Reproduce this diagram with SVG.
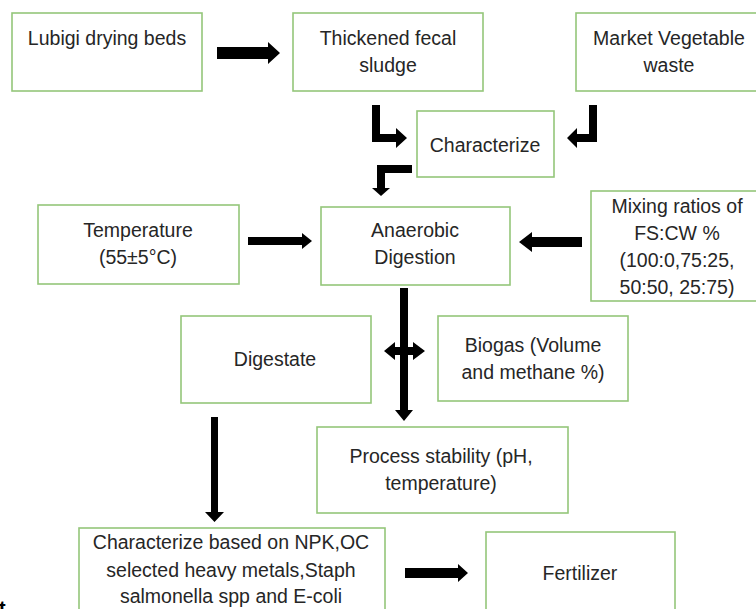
<svg xmlns="http://www.w3.org/2000/svg" width="756" height="609" viewBox="0 0 756 609">
<style>
.box{fill:#fff;stroke:#94C67A;stroke-width:1.6}
.t{font-family:"Liberation Sans",Arial,sans-serif;font-size:19.5px;fill:#262626;text-anchor:middle}
.arr{fill:#000}
</style>
<rect width="756" height="609" fill="#fff"/>
<g id="lubigi"><rect class="box" x="12" y="13" width="190" height="78"/><text class="t" x="107" y="45">Lubigi drying beds</text></g>
<g id="thickened"><rect class="box" x="293" y="13" width="190" height="78"/><text class="t" x="388" y="45">Thickened fecal</text><text class="t" x="388" y="72">sludge</text></g>
<g id="market"><rect class="box" x="576" y="13" width="190" height="78"/><text class="t" x="669" y="45">Market Vegetable</text><text class="t" x="669" y="72">waste</text></g>
<g id="characterize"><rect class="box" x="417" y="111" width="137" height="66"/><text class="t" x="485" y="152">Characterize</text></g>
<g id="temperature"><rect class="box" x="38" y="205" width="201" height="79"/><text class="t" x="138" y="237">Temperature</text><text class="t" x="138" y="264">(55±5°C)</text></g>
<g id="anaerobic"><rect class="box" x="321" y="207" width="189" height="78"/><text class="t" x="415" y="237">Anaerobic</text><text class="t" x="415" y="264">Digestion</text></g>
<g id="mixing"><rect class="box" x="591" y="191" width="175" height="110"/><text class="t" x="677" y="213">Mixing ratios of</text><text class="t" x="677" y="240">FS:CW %</text><text class="t" x="677" y="267">(100:0,75:25,</text><text class="t" x="677" y="294">50:50, 25:75)</text></g>
<g id="digestate"><rect class="box" x="181" y="316" width="190" height="87"/><text class="t" x="275" y="366">Digestate</text></g>
<g id="biogas"><rect class="box" x="438" y="316" width="190" height="85"/><text class="t" x="533" y="352">Biogas (Volume</text><text class="t" x="533" y="379">and methane %)</text></g>
<g id="stability"><rect class="box" x="317" y="427" width="251" height="86"/><text class="t" x="441" y="463">Process stability (pH,</text><text class="t" x="441" y="490">temperature)</text></g>
<g id="npk"><rect class="box" x="79" y="528" width="306" height="95"/><text class="t" x="231" y="549">Characterize based on NPK,OC</text><text class="t" x="231" y="577">selected heavy metals,Staph</text><text class="t" x="231" y="603">salmonella spp and E-coli</text></g>
<g id="fertilizer"><rect class="box" x="486" y="532" width="189" height="90"/><text class="t" x="580" y="580">Fertilizer</text></g>
<g id="connectors">
<polygon class="arr" points="217,47 268,47 268,42 280,53 268,64 268,59 217,59"/>
<polygon class="arr" points="372,105 380,105 380,134 396,134 396,128 407,138 396,148 396,142 372,142"/>
<polygon class="arr" points="589,105 597,105 597,142 577,142 577,148 567,138 577,128 577,134 589,134"/>
<polygon class="arr" points="412,165 412,173 385,173 385,188 390,188 381,196 372,188 377,188 377,165"/>
<polygon class="arr" points="248,237 302,237 302,233 312,241 302,249 302,245 248,245"/>
<polygon class="arr" points="582,237 532,237 532,232 519,242 532,252 532,247 582,247"/>
<polygon class="arr" points="400,288 408,288 408,410 413,410 404,421 395,410 400,410"/>
<polygon class="arr" points="395,347 413,347 413,342 425,351 413,360 413,355 395,355 395,360 384,351 395,342"/>
<polygon class="arr" points="211,417 218,417 218,512 224,512 214.5,522 205,512 211,512"/>
<polygon class="arr" points="405,568 458,568 458,564 468,573 458,582 458,578 405,578"/>
</g>
<text x="-1" y="615" font-family="Liberation Sans,Arial,sans-serif" font-weight="bold" font-size="20" fill="#000">t</text>
</svg>
